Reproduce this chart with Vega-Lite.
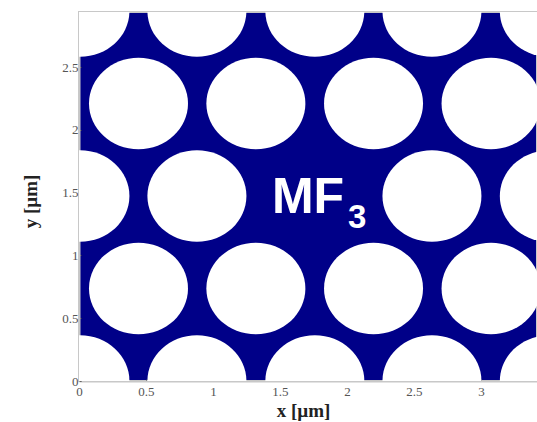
{
"$schema":"https://vega.github.io/schema/vega-lite/v6.json",
"width":458,"height":369,
"autosize":{"type":"none"},
"padding":{"left":79,"top":12,"right":0,"bottom":41},
"background":"white",
"view":{"fill":"#000088","stroke":"#c8c8c8","strokeWidth":2},
"config":{"axis":{"labelFont":"Liberation Serif","titleFont":"Liberation Serif","labelFontSize":13,"labelColor":"#555555","titleColor":"#222222","titleFontSize":19,"titleFontWeight":"bold","domainColor":"#c8c8c8","domainWidth":2,"tickColor":"#444444","tickSize":-2,"tickWidth":1,"grid":false,"labelPadding":3,"labelFlush":false}},
"layer":[
{"data":{"values":[
{"x":0.007,"y":0.0},{"x":0.88,"y":0.0},{"x":1.76,"y":0.0},{"x":2.634,"y":0.0},{"x":3.51,"y":0.0},
{"x":0.444,"y":0.737},{"x":1.32,"y":0.737},{"x":2.198,"y":0.737},{"x":3.075,"y":0.737},
{"x":0.007,"y":1.473},{"x":0.88,"y":1.473},{"x":2.634,"y":1.473},{"x":3.51,"y":1.473},
{"x":0.444,"y":2.21},{"x":1.32,"y":2.21},{"x":2.198,"y":2.21},{"x":3.075,"y":2.21},
{"x":0.007,"y":2.946},{"x":0.88,"y":2.946},{"x":1.76,"y":2.946},{"x":2.634,"y":2.946},{"x":3.51,"y":2.946}
]},
"mark":{"type":"point","filled":true,"fill":"white","opacity":1,"stroke":null,"clip":true,"size":9801,"shape":"M-1,0A1,0.925,0,1,1,1,0A1,0.925,0,1,1,-1,0Z"},
"encoding":{
"x":{"field":"x","type":"quantitative","scale":{"domain":[0,3.418],"nice":false,"zero":false},"axis":{"title":"x [µm]","values":[0,0.5,1,1.5,2,2.5,3],"labelExpr":"datum.value","labelPadding":6,"titleX":224,"titleY":35,"titleBaseline":"alphabetic"}},
"y":{"field":"y","type":"quantitative","scale":{"domain":[0,2.938],"nice":false,"zero":false},"axis":{"title":"y [µm]","values":[0,0.5,1,1.5,2,2.5],"labelExpr":"datum.value","titleX":-43,"titleY":189,"titleBaseline":"alphabetic"}}
}},
{"data":{"values":[{"x":1.44,"y":1.338,"t":"MF"}]},
"mark":{"type":"text","align":"left","baseline":"alphabetic","font":"Liberation Sans","fontWeight":"bold","fontSize":50,"fill":"white"},
"encoding":{"x":{"field":"x","type":"quantitative"},"y":{"field":"y","type":"quantitative"},"text":{"field":"t"}}},
{"data":{"values":[{"x":2.007,"y":1.218,"t":"3"}]},
"mark":{"type":"text","align":"left","baseline":"alphabetic","font":"Liberation Sans","fontWeight":"bold","fontSize":33,"fill":"white"},
"encoding":{"x":{"field":"x","type":"quantitative"},"y":{"field":"y","type":"quantitative"},"text":{"field":"t"}}}
]
}
